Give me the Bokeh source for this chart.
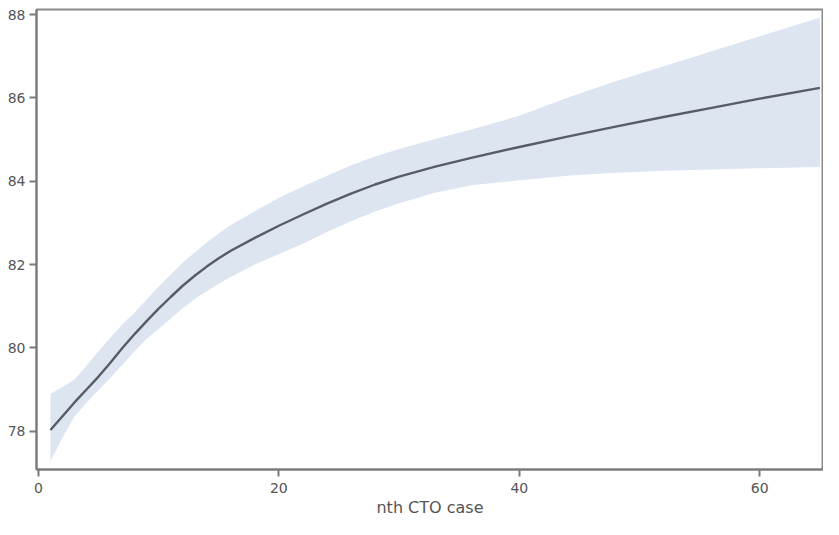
from bokeh.plotting import figure
from bokeh.models import Range1d, FixedTicker
from bokeh.embed import file_html
from bokeh.resources import INLINE

# Fitted curve (nth CTO case vs outcome) with confidence band
x_vals = [1, 2, 3, 4, 5, 6, 7, 8, 9, 10, 11, 12, 13, 14, 15, 16, 18, 20, 22, 24,
          26, 28, 30, 33, 36, 40, 44, 48, 52, 56, 60, 65]
fit = [78.03, 78.36, 78.69, 79.00, 79.31, 79.65, 80.00, 80.33, 80.64, 80.94, 81.22,
       81.49, 81.73, 81.95, 82.15, 82.33, 82.64, 82.93, 83.20, 83.46, 83.70, 83.92,
       84.11, 84.35, 84.56, 84.82, 85.07, 85.31, 85.54, 85.76, 85.98, 86.24]
lower = [77.28, 77.85, 78.35, 78.68, 78.98, 79.28, 79.60, 79.92, 80.22, 80.45, 80.70,
         80.95, 81.17, 81.36, 81.54, 81.70, 82.00, 82.25, 82.50, 82.78, 83.04, 83.27,
         83.47, 83.72, 83.90, 84.02, 84.13, 84.20, 84.25, 84.28, 84.31, 84.34]
upper = [78.89, 79.06, 79.24, 79.57, 79.92, 80.25, 80.57, 80.85, 81.16, 81.47, 81.76,
         82.04, 82.29, 82.53, 82.75, 82.95, 83.28, 83.60, 83.87, 84.13, 84.38, 84.59,
         84.77, 85.01, 85.24, 85.57, 86.00, 86.40, 86.76, 87.12, 87.48, 87.92]

x_ticks = [0, 20, 40, 60]
y_ticks = [78, 80, 82, 84, 86, 88]
x_label = "nth CTO case"

p = figure(width=823, height=519, output_backend="svg", toolbar_location=None,
           x_range=Range1d(-0.16, 65.3), y_range=Range1d(77.08, 88.12),
           min_border_left=36, min_border_top=9, min_border_right=0,
           min_border_bottom=46)

p.varea(x=x_vals, y1=lower, y2=upper, fill_color="#dde5f1", fill_alpha=1.0)
p.line(x=x_vals, y=fit, line_color="#575c66", line_width=2.4)

p.xgrid.visible = False
p.ygrid.visible = False
p.outline_line_color = "#8a8a8a"
p.outline_line_width = 2
p.background_fill_color = "white"
p.border_fill_color = "white"

for ax in (p.xaxis[0], p.yaxis[0]):
    ax.axis_line_color = "#7a7a7a"
    ax.axis_line_width = 2
    ax.major_tick_line_color = "#7a7a7a"
    ax.major_tick_line_width = 2
    ax.major_tick_in = 0
    ax.major_tick_out = 7
    ax.minor_tick_line_color = None
    ax.major_label_text_color = "#555555"
    ax.major_label_text_font = "DejaVu Sans"
    ax.major_label_text_font_size = "14px"

p.xaxis[0].ticker = FixedTicker(ticks=x_ticks)
p.yaxis[0].ticker = FixedTicker(ticks=y_ticks)
p.xaxis[0].major_label_standoff = 6
p.yaxis[0].major_label_standoff = 4
p.xaxis[0].axis_label = x_label
p.xaxis[0].axis_label_text_font = "DejaVu Sans"
p.xaxis[0].axis_label_text_font_style = "normal"
p.xaxis[0].axis_label_text_font_size = "16px"
p.xaxis[0].axis_label_text_color = "#555555"
p.xaxis[0].axis_label_standoff = 2

open("out.html", "w").write(file_html(p, INLINE))
